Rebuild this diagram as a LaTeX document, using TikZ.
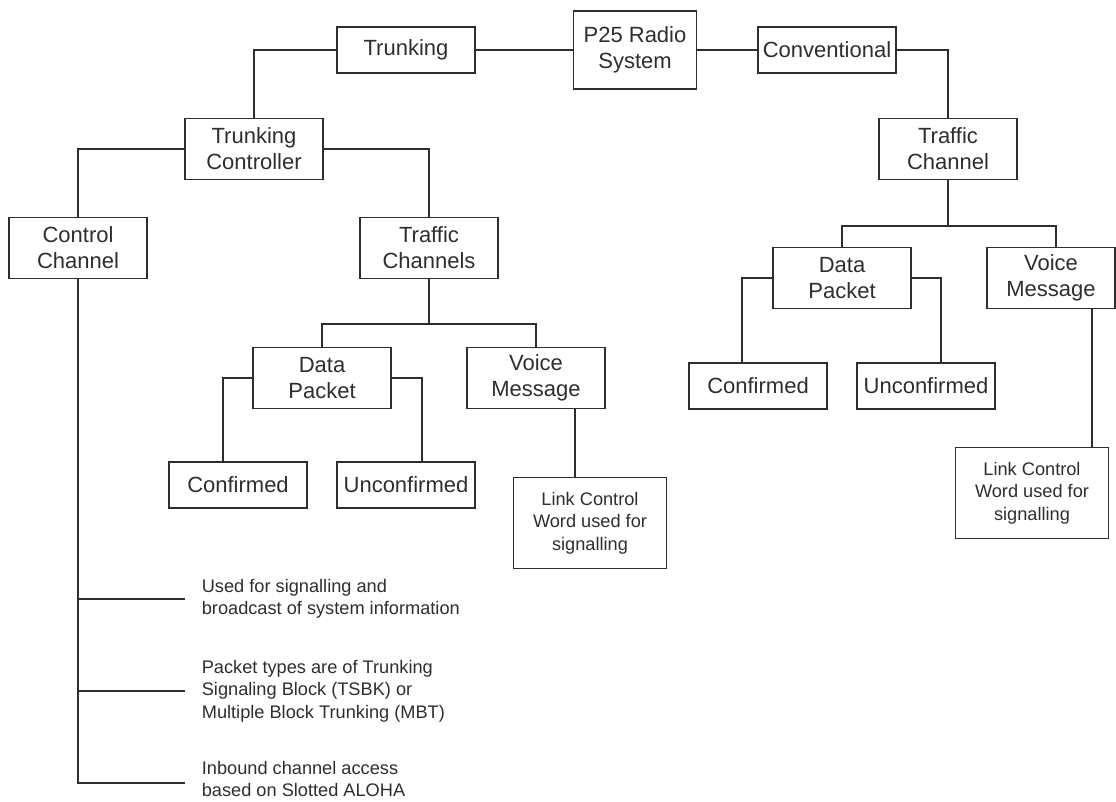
\documentclass[tikz,border=0pt]{standalone}
\usepackage{fontspec}
\setmainfont{Liberation Sans}
\usetikzlibrary{positioning}
\definecolor{ink}{HTML}{2E2E2E}

\begin{document}
\begin{tikzpicture}[x=1pt,y=-1pt,line width=1.7pt,color=ink,
  hv/.style={to path={-| (\tikztotarget)}},
  vh/.style={to path={|- (\tikztotarget)}},
  main node/.style={rectangle,draw,align=center,inner sep=2pt,minimum width=138pt,minimum height=61pt,font=\fontsize{22}{26}\selectfont},
  flat node/.style={main node,minimum height=46pt},
  link node/.style={main node,minimum width=153pt,minimum height=91pt,font=\fontsize{18.2}{22.5}\selectfont},
  note/.style={anchor=west,align=left,inner xsep=16pt,font=\fontsize{18.2}{22.5}\selectfont}]
  \useasboundingbox (0,0) rectangle (1116,801);
  \node[main node,minimum width=123pt,minimum height=78pt] (1) at (635,50) {P25 Radio\\System};
  \node[flat node] (2) at (406,50) {Trunking};
  \node[flat node] (3) at (827,50) {Conventional};
  \node[main node] (4) at (254,149) {Trunking\\Controller};
  \node[main node] (5) at (948,149) {Traffic\\Channel};
  \node[main node] (6) at (78,248) {Control\\Channel};
  \node[main node] (7) at (429,248) {Traffic\\Channels};
  \node[main node] (8) at (322,378) {Data\\Packet};
  \node[main node] (9) at (536,378) {Voice\\Message};
  \node[flat node] (10) at (238,485) {Confirmed};
  \node[flat node] (11) at (406,485) {Unconfirmed};
  \node[link node] (12) at (590,523) {Link Control\\Word used for\\signalling};
  \node[main node] (13) at (842,278) {Data\\Packet};
  \node[main node,minimum width=128pt] (14) at (1051,278) {Voice\\Message};
  \node[flat node] (15) at (758,386) {Confirmed};
  \node[flat node] (16) at (926,386) {Unconfirmed};
  \node[link node] (17) at (1032,493) {Link Control\\Word used for\\signalling};
  \node[note] (18) at (185,599) {Used for signalling and\\broadcast of system information};
  \node[note] (19) at (185,691) {Packet types are of Trunking\\Signaling Block (TSBK) or\\Multiple Block Trunking (MBT)};
  \node[note] (20) at (185,779) {Inbound channel access\\based on Slotted ALOHA};
  \coordinate (b1) at (429,324);
  \coordinate (b2) at (948,226);
  \path
    (2) edge (1)
    (1) edge (3)
    (2.west) edge[hv] (4.north)
    (3.east) edge[hv] (5.north)
    (4.west) edge[hv] (6.north)
    (4.east) edge[hv] (7.north)
    (7) edge (b1)
    (b1) edge[hv] (8.north)
    (b1) edge[hv] (9.north)
    (8.west) edge[hv] ([xshift=-15pt]10.north)
    (8.east) edge[hv] ([xshift=16pt]11.north)
    ([xshift=39pt]9.south) edge ([xshift=-15pt]12.north)
    (5) edge (b2)
    (b2) edge[hv] (13.north)
    (b2) edge[hv] ([xshift=5pt]14.north)
    (13.west) edge[hv] ([xshift=-16pt]15.north)
    (13.east) edge[hv] ([xshift=15pt]16.north)
    ([xshift=41pt]14.south) edge ([xshift=60pt]17.north)
    (6.south) edge[vh] (18.west)
    (6.south) edge[vh] (19.west)
    (6.south) edge[vh] ([yshift=-4pt]20.west);
\end{tikzpicture}
\end{document}
